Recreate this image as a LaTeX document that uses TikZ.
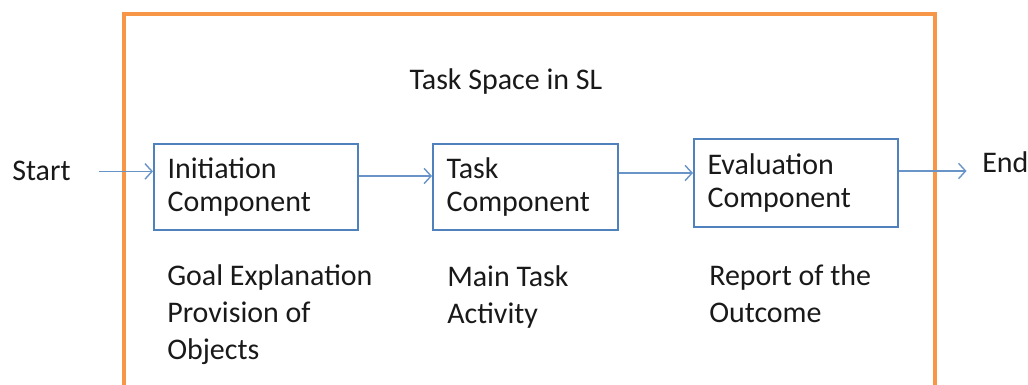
\documentclass[tikz,border=0pt]{standalone}
\usepackage{fontspec}
\setmainfont{Carlito}
\usetikzlibrary{arrows.meta}
\definecolor{orng}{RGB}{247,150,70}
\definecolor{blu}{RGB}{79,129,189}

\begin{document}
\begin{tikzpicture}[x=0.025cm, y=-0.025cm,
  comp/.style = {draw=blu, line width=1.7pt, anchor=north west, align=left,
    inner xsep=9.5pt, inner ysep=0pt, text=black!90,
    font=\fontsize{21.3}{23.5}\selectfont},
  note/.style = {align=left, inner sep=0pt, text=black!90,
    font=\fontsize{21.3}{26.3}\selectfont},
  flow/.style = {blu!85, line width=1pt, -{Straight Barb[length=5pt,width=11pt]}}]
\useasboundingbox (0,0) rectangle (1028,385);
\clip (0,0) rectangle (1028,385);
\draw[orng, line width=2.2pt] (124,400) -- (124,14) -- (935,14) -- (935,400);
\node[note, anchor=base] (space) at (506,90) {Task Space in SL};
\node[comp, text width=126pt, minimum height=61pt] (init) at (153,143) {Initiation\\Component};
\node[comp, text width=112.6pt, minimum height=61pt] (task) at (432,143) {Task\\Component};
\node[comp, text width=126pt, minimum height=62.6pt] (eval) at (693,138) {Evaluation\\Component};
\node[note, anchor=base west] (start) at (12,181) {Start};
\node[note, anchor=base west] (end) at (982,173) {End};
\node[note, anchor=north west] (goal) at (167,264) {Goal Explanation\\Provision of\\Objects};
\node[note, anchor=north west] (main) at (447,265) {Main Task\\Activity};
\node[note, anchor=north west] (report) at (709,264) {Report of the\\Outcome};
\draw[flow] ([xshift=20pt]start.east) -- (start.east -| init.west);
\draw[flow] (init.east |- 0,176) -- (task.west |- 0,176);
\draw[flow] (task.east |- 0,173) -- (eval.west |- 0,173);
\draw[flow] (eval.east |- 0,171) -- ([xshift=-11pt]end.west |- 0,171);
\end{tikzpicture}
\end{document}
